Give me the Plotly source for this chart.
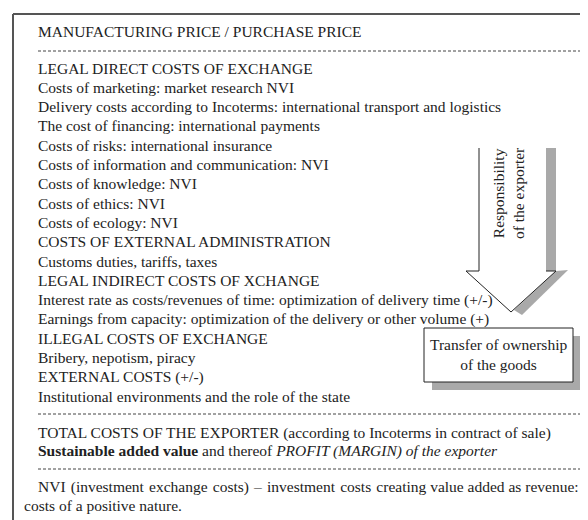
import plotly.graph_objects as go

# text lines of the cost list (top block)
titleLine = 'MANUFACTURING PRICE / PURCHASE PRICE'
costLines = [
    'LEGAL DIRECT COSTS OF EXCHANGE',
    'Costs of marketing: market research NVI',
    'Delivery costs according to Incoterms: international transport and logistics',
    'The cost of financing: international payments',
    'Costs of risks: international insurance',
    'Costs of information and communication: NVI',
    'Costs of knowledge: NVI',
    'Costs of ethics: NVI',
    'Costs of ecology: NVI',
    'COSTS OF EXTERNAL ADMINISTRATION',
    'Customs duties, tariffs, taxes',
    'LEGAL INDIRECT COSTS OF XCHANGE',
    'Interest rate as costs/revenues of time: optimization of delivery time (+/-)',
    'Earnings from capacity: optimization of the delivery or other volume (+)',
    'ILLEGAL COSTS OF EXCHANGE',
    'Bribery, nepotism, piracy',
    'EXTERNAL COSTS (+/-)',
    'Institutional environments and the role of the state',
]
totalLines = [
    'TOTAL COSTS OF THE EXPORTER (according to Incoterms in contract of sale)',
    '<b>Sustainable added value</b> and thereof <i>PROFIT (MARGIN) of the exporter</i>',
]
noteLine1 = 'NVI (investment exchange costs) \u2013 investment costs creating value added as revenue:'
noteLine2 = 'costs of a positive nature.'
arrowLabel = 'Responsibility<br>of the exporter'
boxLabel = 'Transfer of ownership<br>of the goods'

W, H = 588, 520
OFF = 8  # page body margin, coordinates below are page pixels
FONT = dict(family='Liberation Serif, Times New Roman, serif', size=15.5, color='#222')
GRAY = '#a9a9a9'

fig = go.Figure()
fig.add_trace(go.Scatter(x=[0], y=[0], mode='markers', marker=dict(opacity=0), hoverinfo='skip'))

def addText(x, y, txt, anchor='left'):
    fig.add_annotation(x=x, y=y, text=txt, showarrow=False, xanchor=anchor, yanchor='middle',
                       font=FONT, xref='x', yref='y')

def dashed(y):
    fig.add_shape(type='line', x0=38, x1=582, y0=y, y1=y, line=dict(color='#444', width=1, dash='3px,2px'))

# frame
fig.add_shape(type='line', x0=13, x1=W + OFF, y0=14, y1=14, line=dict(color='#555', width=2))
fig.add_shape(type='line', x0=13, x1=13, y0=14, y1=H + OFF, line=dict(color='#555', width=2))

TX = 36
addText(TX, 31, titleLine)
dashed(51)
y = 68
for line in costLines:
    addText(TX, y, line)
    y += 19.3
dashed(414)
addText(TX, 433, totalLines[0])
addText(TX, 451, totalLines[1])
dashed(469)
# spread some word gaps a little so the line fills the width like the justified original
addText(TX, 487, noteLine1.replace(' ', ' \u200a', 7))
addText(22, 505, noteLine2)

# hollow arrow with grey shadow
fig.add_shape(type='rect', x0=546, x1=556, y0=148, y1=271, fillcolor=GRAY, line=dict(width=0))
fig.add_shape(type='path', path='M 556,271 L 568,270 L 522,315 L 514,310 Z', fillcolor=GRAY, line=dict(width=0))
fig.add_shape(type='path', path='M 479,148 L 479,271 L 466,271 L 511,312 L 556,271 L 546,271',
              line=dict(color='#222', width=1))
fig.add_annotation(x=508, y=193, text=arrowLabel, showarrow=False, textangle=-90,
                   xanchor='center', yanchor='middle', font=FONT, xref='x', yref='y')

# box with shadow
fig.add_shape(type='rect', x0=432, x1=581, y0=336, y1=390, fillcolor=GRAY, line=dict(width=0))
fig.add_shape(type='rect', x0=424, x1=573, y0=328, y1=382, fillcolor='white', line=dict(color='#222', width=1))
fig.add_annotation(x=498, y=354, text=boxLabel, showarrow=False, xanchor='center', yanchor='middle',
                   font=FONT, xref='x', yref='y')

fig.update_layout(width=W, height=H, autosize=False, margin=dict(l=0, r=0, t=0, b=0),
                  paper_bgcolor='white', plot_bgcolor='white', showlegend=False)
fig.update_xaxes(range=[OFF, W + OFF], visible=False, fixedrange=True)
fig.update_yaxes(range=[H + OFF, OFF], visible=False, fixedrange=True)
fig.write_html('out.html')
